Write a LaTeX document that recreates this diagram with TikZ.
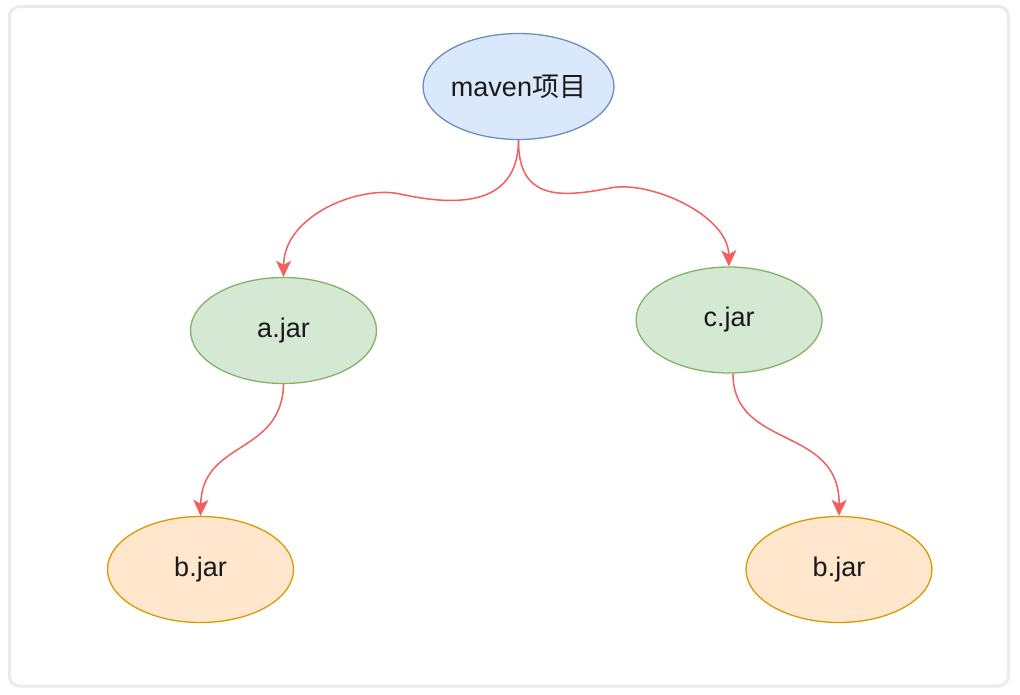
\documentclass[tikz,border=0pt]{standalone}
\usepackage{fontspec}
\setmainfont{Liberation Sans}
\newfontfamily\cjk{Noto Sans CJK SC}
\usetikzlibrary{shapes.geometric,arrows.meta}
\definecolor{blueF}{HTML}{DAE8FC}
\definecolor{blueD}{HTML}{6C8EBF}
\definecolor{greenF}{HTML}{D5E8D4}
\definecolor{greenD}{HTML}{82B366}
\definecolor{orangeF}{HTML}{FFE6CC}
\definecolor{orangeD}{HTML}{D79B00}
\definecolor{edgeR}{HTML}{F25F5C}
\definecolor{frameG}{HTML}{EBEBEB}
\definecolor{txt}{HTML}{1A1A1A}
\begin{document}
\begin{tikzpicture}[x=1pt,y=-1pt,
  ell/.style={ellipse,minimum width=186pt,minimum height=106pt,inner sep=0pt,
    line width=1.3pt,text=txt,font=\fontsize{27pt}{32pt}\selectfont},
  bluebox/.style={ell,fill=blueF,draw=blueD},
  greenbox/.style={ell,fill=greenF,draw=greenD},
  orangebox/.style={ell,fill=orangeF,draw=orangeD},
  link/.style={draw=edgeR,line width=1.5pt,
    -{Stealth[length=16pt,width=15pt,inset=4pt]}}]
\useasboundingbox (0,0) rectangle (1020,695);
\fill[white] (0,0) rectangle (1020,695);
\draw[frameG,line width=3pt,rounded corners=10pt] (9.5,6.5) rectangle (1008.5,686);

\node[bluebox] (m) at (518.5,86.5) {maven{\cjk 项目}};
\node[greenbox] (a) at (283.5,330.5) {a.jar};
\node[greenbox] (c) at (729,320) {c.jar};
\node[orangebox] (bl) at (200.5,569.5) {b.jar};
\node[orangebox] (br) at (839,569.5) {b.jar};

\draw[link] (m.south) .. controls (518,210) and (450,205) .. (400,194)
  .. controls (360,185) and (284,215) .. (a.north);
\draw[link] (m.south) .. controls (518,200) and (560,198) .. (610,188)
  .. controls (650,180) and (728,215) .. (c.north);
\draw[link] (a.south) .. controls (282,455) and (202,440) .. (bl.north);
\draw[link] ([xshift=4pt]c.south) .. controls (733,450) and (840,425) .. (br.north);
\end{tikzpicture}
\end{document}
